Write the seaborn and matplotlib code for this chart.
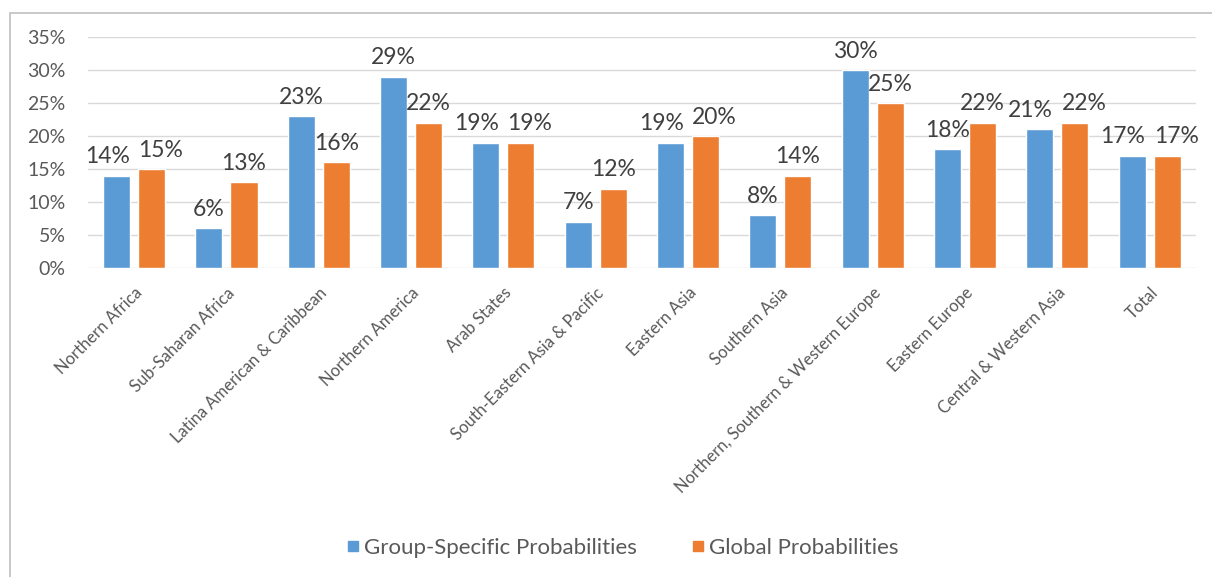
import matplotlib
matplotlib.use("Agg")
import matplotlib.pyplot as plt
from matplotlib.patches import Rectangle
from matplotlib.ticker import PercentFormatter
import pandas as pd
import seaborn as sns

regions = ["Northern Africa", "Sub-Saharan Africa", "Latina American & Caribbean",
           "Northern America", "Arab States", "South-Eastern Asia & Pacific",
           "Eastern Asia", "Southern Asia", "Northern, Southern & Western Europe",
           "Eastern Europe", "Central & Western Asia", "Total"]
group_specific = [14, 6, 23, 29, 19, 7, 19, 8, 30, 18, 21, 17]
global_prob = [15, 13, 16, 22, 19, 12, 20, 14, 25, 22, 22, 17]
series = ["Group-Specific Probabilities", "Global Probabilities"]
colors = ["#5B9BD5", "#ED7D31"]

df = pd.DataFrame({
    "region": regions * 2,
    "value": group_specific + global_prob,
    "series": [series[0]] * len(regions) + [series[1]] * len(regions),
})

sns.set_style("white")
plt.rcParams["font.family"] = ["Lato", "DejaVu Sans"]
grey = "#595959"

fig = plt.figure(figsize=(12.12, 5.77), dpi=100)
ax = fig.add_axes([0.0726, 0.5355, 0.914, 0.4005])

sns.barplot(data=df, x="region", y="value", hue="series", palette=colors,
            width=0.76, gap=0.23, saturation=1, ax=ax, legend=True)

# labels are nudged apart (like Excel) where the two bars are about the same height
close = [abs(a - b) <= 2 for a, b in zip(group_specific, global_prob)]
for k, c in enumerate(ax.containers):
    sign = -1 if k == 0 else 1
    for i, (bar, v) in enumerate(zip(c, c.datavalues)):
        dx = sign * 6.5 if close[i] else 0
        ax.annotate(f"{v:.0f}%", (bar.get_x() + bar.get_width() / 2, v),
                    xytext=(dx, 6), textcoords="offset points",
                    ha="center", va="bottom", fontsize=16.5, color="#404040")

ax.set_ylim(0, 35)
ax.set_yticks(range(0, 36, 5))
ax.yaxis.set_major_formatter(PercentFormatter(decimals=0))
ax.grid(axis="y", color="#d9d9d9", linewidth=1)
ax.set_axisbelow(True)
for s in ax.spines.values():
    s.set_visible(False)
ax.set_xlabel("")
ax.set_ylabel("")
ax.tick_params(axis="y", labelsize=14, labelcolor=grey, length=0, pad=16)
ax.tick_params(axis="x", length=0, pad=12)
ax.set_xticks(range(len(regions)))
ax.set_xticklabels(regions, rotation=45, ha="right", rotation_mode="anchor",
                   fontsize=12, color=grey)
ax.set_xlim(-0.5, len(regions) - 0.5)

ax.legend_.remove()
handles = [plt.Line2D([], [], marker="s", linestyle="", markersize=7,
                      markerfacecolor=c, markeredgecolor=c) for c in colors]
fig.legend(handles, series, loc="center", bbox_to_anchor=(0.513, 0.05), ncol=2,
           frameon=False, fontsize=16, labelcolor=grey, handletextpad=0.15,
           columnspacing=2.4, handlelength=0.7)

fig.patches.append(Rectangle((10 / 1212, -0.05), 1.1, 1.05 - 13 / 577,
                             transform=fig.transFigure, fill=False,
                             edgecolor="#bfbfbf", linewidth=1.2))

fig.savefig("out.png", dpi=100)
